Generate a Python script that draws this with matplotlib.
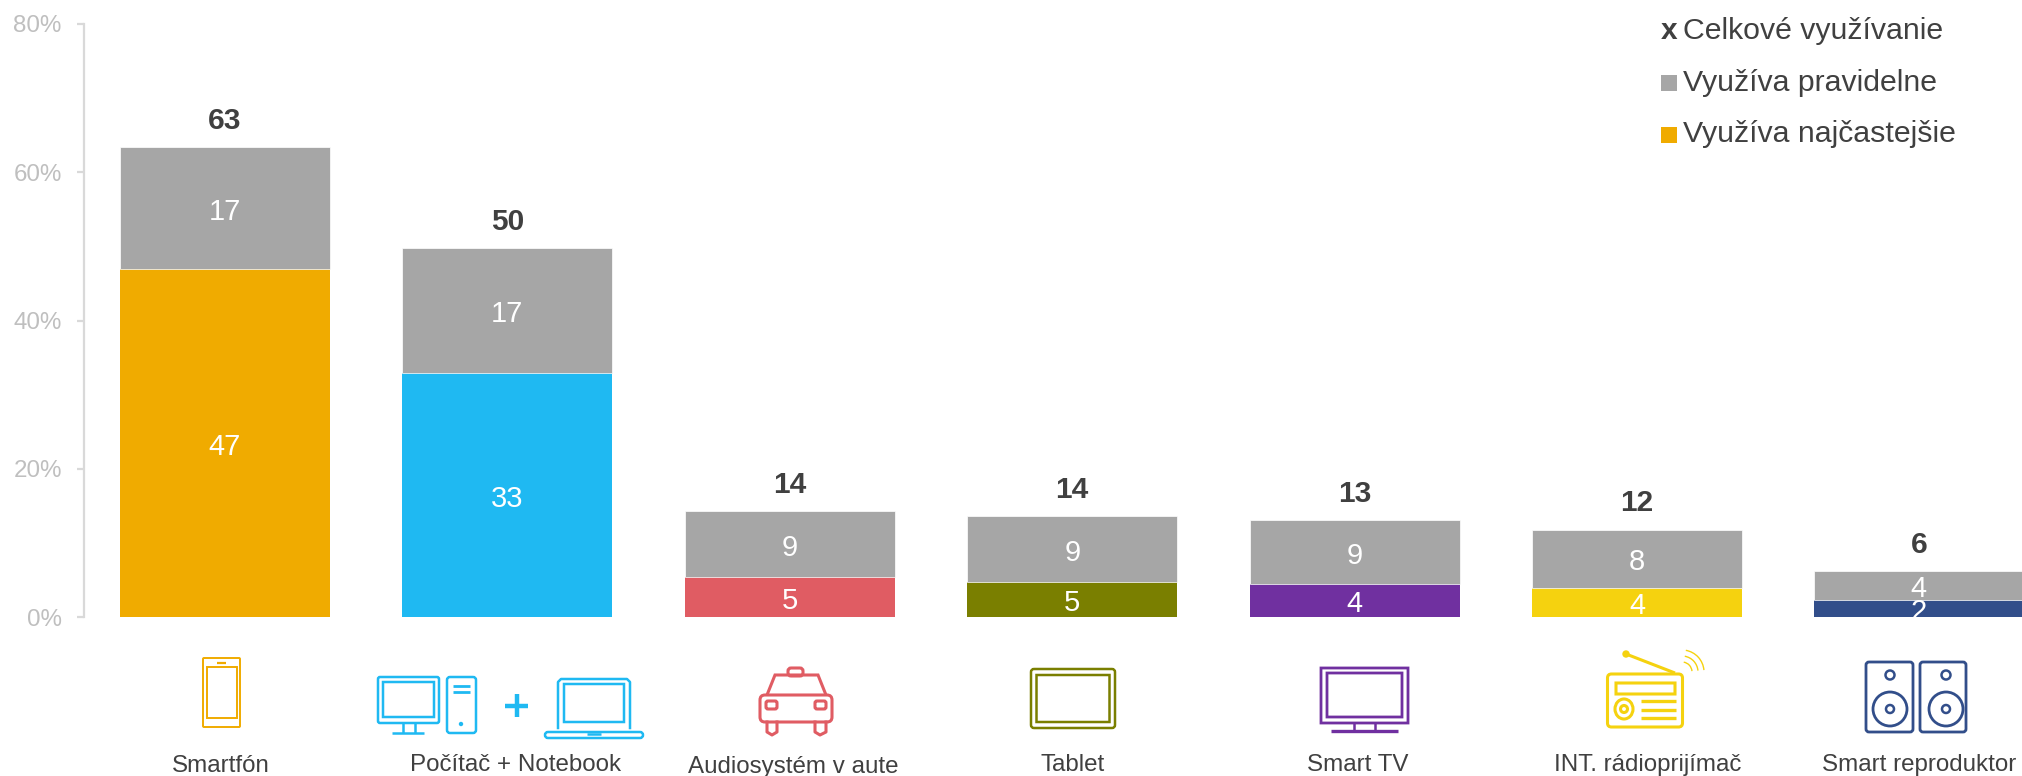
import matplotlib
matplotlib.use("Agg")
import matplotlib.pyplot as plt
from matplotlib.patches import FancyBboxPatch, Rectangle, Ellipse, Circle, Arc, Polygon
from matplotlib.legend_handler import HandlerBase
from matplotlib.transforms import ScaledTranslation
from matplotlib.text import Text

plt.rcParams['font.family'] = ['Liberation Sans', 'DejaVu Sans']

categories = ["Smartfón", "Počítač + Notebook", "Audiosystém v aute", "Tablet",
              "Smart TV", "INT. rádioprijímač", "Smart reproduktor"]
most_often = [46.9, 32.9, 5.4, 4.7, 4.4, 3.9, 2.3]
regularly = [16.55, 16.9, 8.9, 8.9, 8.7, 7.9, 3.9]
bar_colors = ["#F0AB00", "#1FB9F2", "#E05C63", "#7A7F00", "#7030A0", "#F5D20F", "#324E8A"]
grey = "#A6A6A6"
y_ticks = [0, 20, 40, 60, 80]
legend_labels = ["Celkové využívanie", "Využíva pravidelne", "Využíva najčastejšie"]

W, H = 2022, 776
TEXT = "#404040"
fig = plt.figure(figsize=(W / 100, H / 100), dpi=100, facecolor="white")

# plot area: x from 84 px to the right edge, y 0..80 from 617 px to 24 px
ax = fig.add_axes([84 / W, 1 - 617 / H, (W - 84) / W, (617 - 24) / H])
x0, step = 225, 282.4
ax.set_xlim((84 - x0) / step, (W - x0) / step)
ax.set_ylim(0, 80)
xs = list(range(len(categories)))
bw = 210 / step

b1 = ax.bar(xs, most_often, width=bw, color=bar_colors, edgecolor="none")
b2 = ax.bar(xs, regularly, width=bw, bottom=most_often, color=grey, edgecolor="white", linewidth=0.5)
for container in (b1, b2):
    for ann in ax.bar_label(container, fmt="%.0f", label_type="center", color="white", fontsize=21):
        ann.xyann = (0, -2.6)
for x, a, b in zip(xs, most_often, regularly):
    ax.annotate(f"{a + b:.0f}", (x, a + b), xytext=(0, 13), textcoords="offset points",
                ha="center", va="baseline", fontsize=21.5, fontweight="bold", color=TEXT)

for s in ("top", "right", "bottom"):
    ax.spines[s].set_visible(False)
ax.spines["left"].set_color("#D9D9D9")
ax.spines["left"].set_linewidth(1.6)
ax.set_yticks(y_ticks)
ax.set_yticklabels([f"{v}%" for v in y_ticks], fontsize=17.4, color="#BFBFBF")
ax.tick_params(axis="y", length=5, width=1.6, color="#D9D9D9", pad=11)

ax.set_xticks(xs)
ax.set_xticklabels(categories, fontsize=17.4, color=TEXT)
ax.tick_params(axis="x", length=0, pad=0)
label_dx = [-4, 8, 3, 0, 3, 11, 0]
label_cy = [766, 765, 767, 765, 765, 765, 765]
for lab, dx, cy in zip(ax.get_xticklabels(), label_dx, label_cy):
    lab.set_verticalalignment("center")
    lab.set_transform(lab.get_transform() + ScaledTranslation(dx / 100, -(cy - 617) / 100, fig.dpi_scale_trans))


class SquareHandler(HandlerBase):
    def create_artists(self, legend, orig, xd, yd, width, height, fontsize, trans):
        r = Rectangle((0, -0.5), 11.5, 11.5, facecolor=orig.get_facecolor(), edgecolor="none", transform=trans)
        return [r]


class XHandler(HandlerBase):
    def create_artists(self, legend, orig, xd, yd, width, height, fontsize, trans):
        t = Text(5.8, 0, "x", ha="center", va="baseline", fontsize=21.5, fontweight="bold",
                 color=TEXT, transform=trans)
        return [t]


h0 = Rectangle((0, 0), 1, 1, facecolor=TEXT)
h1 = Rectangle((0, 0), 1, 1, facecolor=grey)
h2 = Rectangle((0, 0), 1, 1, facecolor=bar_colors[0])
leg = fig.legend([h0, h1, h2], legend_labels, loc="upper left",
                 bbox_to_anchor=(1661 / W, 1 - 17 / H), bbox_transform=fig.transFigure,
                 frameon=False, fontsize=21.8, labelcolor=TEXT, labelspacing=0.78,
                 handlelength=0.6, handletextpad=0.13, borderpad=0, borderaxespad=0,
                 handler_map={h0: XHandler(), h1: SquareHandler(), h2: SquareHandler()})

# decorative device icons in pixel coordinates
ic = fig.add_axes([0, 0, 1, 1], zorder=5)
ic.set_xlim(0, W)
ic.set_ylim(H, 0)
ic.axis("off")
ic.patch.set_alpha(0)


def box(x1, y1, x2, y2, c, lw=1.6, r=2):
    ic.add_patch(FancyBboxPatch((x1, y1), x2 - x1, y2 - y1, boxstyle=f"round,pad=0,rounding_size={r}",
                                fill=False, edgecolor=c, linewidth=lw))


def line(xa, ya, xb, yb, c, lw=1.8):
    ic.plot([xa, xb], [ya, yb], color=c, linewidth=lw, solid_capstyle="butt")


# phone
c = bar_colors[0]
box(203, 658, 240, 727, c, 1.4, 1)
box(207, 667, 237, 718, c, 1.4, 0)
line(217, 663, 226, 663, c, 1.6)
# desktop + laptop
c = bar_colors[1]
box(378, 677, 439, 723, c, 1.8, 2)
box(383, 682, 434, 717, c, 1.8, 0)
line(403, 723, 403, 733, c); line(415, 723, 415, 733, c); line(392, 733, 424, 733, c)
box(447, 677, 476, 733, c, 1.8, 3)
line(453, 686, 470, 686, c, 2); line(453, 692, 470, 692, c, 2)
ic.add_patch(Circle((461, 724), 1.5, color=c))
line(505, 706, 528, 706, c, 3.2); line(516.5, 694, 516.5, 717, c, 3.2)
ic.plot([558, 558, 561, 627, 630, 630], [728, 682, 679, 679, 682, 728], color=c, lw=1.8)
box(564, 684, 624, 722, c, 1.8, 0)
box(545, 732, 643, 738, c, 1.8, 3)
line(587, 734, 601, 734, c, 1.8)
# car
c = bar_colors[2]
lw = 2.2
box(788, 668, 803, 676, c, lw, 3)
ic.add_patch(Polygon([(767, 695), (775, 675), (818, 675), (826, 695)], closed=False, fill=False, edgecolor=c, lw=lw))
box(760, 695, 832, 722, c, lw, 5)
box(766, 701, 777, 709, c, lw, 2)
box(815, 701, 826, 709, c, lw, 2)
ic.plot([767, 767, 772, 777, 777], [722, 732, 735, 732, 722], color=c, lw=lw)
ic.plot([815, 815, 820, 826, 826], [722, 732, 735, 732, 722], color=c, lw=lw)
# tablet
c = bar_colors[3]
box(1031, 669, 1115, 728, c, 1.8, 3)
box(1036.5, 675, 1109.5, 722, c, 1.8, 0)
# TV
c = bar_colors[4]
box(1321, 668, 1408, 723, c, 2, 0)
box(1327, 673, 1402, 717, c, 2, 0)
line(1354, 723, 1354, 731, c); line(1375, 723, 1375, 731, c); line(1331, 731, 1398, 731, c, 2.4)
# radio
c = bar_colors[5]
box(1607.5, 674, 1682.5, 727, c, 2.2, 4)
box(1616, 683, 1675, 694, c, 2.2, 0)
ic.add_patch(Ellipse((1624, 709), 18, 20, fill=False, edgecolor=c, lw=2.2))
ic.add_patch(Circle((1624, 709), 3.5, fill=False, edgecolor=c, lw=2.2))
line(1641, 701, 1676, 701, c, 2.4); line(1641, 710, 1676, 710, c, 2.4); line(1641, 718, 1676, 718, c, 2.4)
line(1626, 654, 1675, 673, c, 2.2)
ic.add_patch(Circle((1626, 654), 3, color=c))
for d in (10, 16, 22):
    ic.add_patch(Arc((1682, 672), 2 * d, 2 * d, theta1=-80, theta2=-5, edgecolor=c, lw=1))
# speakers
c = bar_colors[6]
for cx, xa, xb in ((1890, 1866, 1913), (1946, 1920, 1966)):
    box(xa, 662, xb, 732, c, 2, 3)
    ic.add_patch(Circle((cx, 675), 4.5, fill=False, edgecolor=c, lw=1.8))
    ic.add_patch(Ellipse((cx, 709), 34, 34, fill=False, edgecolor=c, lw=2))
    ic.add_patch(Circle((cx, 709), 4, fill=False, edgecolor=c, lw=1.8))

fig.savefig("out.png", dpi=100, facecolor="white")
